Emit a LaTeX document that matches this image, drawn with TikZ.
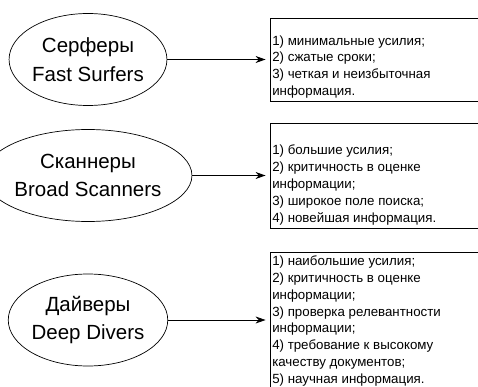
\documentclass[tikz,border=0pt]{standalone}
\usepackage{fontspec}
\setmainfont{Liberation Sans}
\usetikzlibrary{arrows.meta,shapes.geometric}
\tikzset{ell/.style={ellipse, draw, line width=0.7pt, inner sep=0pt,
  minimum width=152pt, minimum height=92pt, align=center,
  font=\fontsize{20.5}{28.5}\selectfont}}
\tikzset{box/.style={draw, line width=0.9pt, minimum width=208pt, inner sep=0pt}}
\tikzset{lst/.style={anchor=west, align=left, inner sep=2.5pt,
  font=\fontsize{13.3}{16.9}\selectfont}}
\tikzset{arr/.style={draw, line width=0.8pt, -{Stealth[length=10pt,width=7pt]},
  shorten >=4pt}}

\begin{document}
\begin{tikzpicture}[x=1pt, y=-1pt]
  \useasboundingbox (0,0) rectangle (478,387);
  %% types of readers
  \node (surf) at (88,59.5) [ell] {Серферы\\Fast Surfers};
  \node (scan) at (88,175.5) [ell] {Сканнеры\\Broad Scanners};
  \node (dive) at (88,320) [ell] {Дайверы\\Deep Divers};
  %% boxes
  \node (b1) at (374,59.5) [box, minimum height=83pt] {};
  \node (b2) at (374,175.5) [box, minimum height=105pt] {};
  \node (b3) at (374,320) [box, minimum height=136pt] {};
  %%
  \node (t1) at ([yshift=-7.5pt]b1.west) [lst] {1) минимальные усилия;\\
    2) сжатые сроки;\\3) четкая и неизбыточная\\информация.};
  \node (t2) at ([yshift=-9.5pt]b2.west) [lst] {1) большие усилия;\\
    2) критичность в оценке\\информации;\\3) широкое поле поиска;\\
    4) новейшая информация.};
  \node (t3) at ([yshift=-1pt]b3.west) [lst] {1) наибольшие усилия;\\
    2) критичность в оценке\\информации;\\3) проверка релевантности\\
    информации;\\4) требование к высокому\\качеству документов;\\
    5) научная информация.};
  %% arrows
  \path[arr] (surf) to (b1);
  \path[arr] (scan) to (b2);
  \path[arr] (dive) to (b3);
\end{tikzpicture}
\end{document}
